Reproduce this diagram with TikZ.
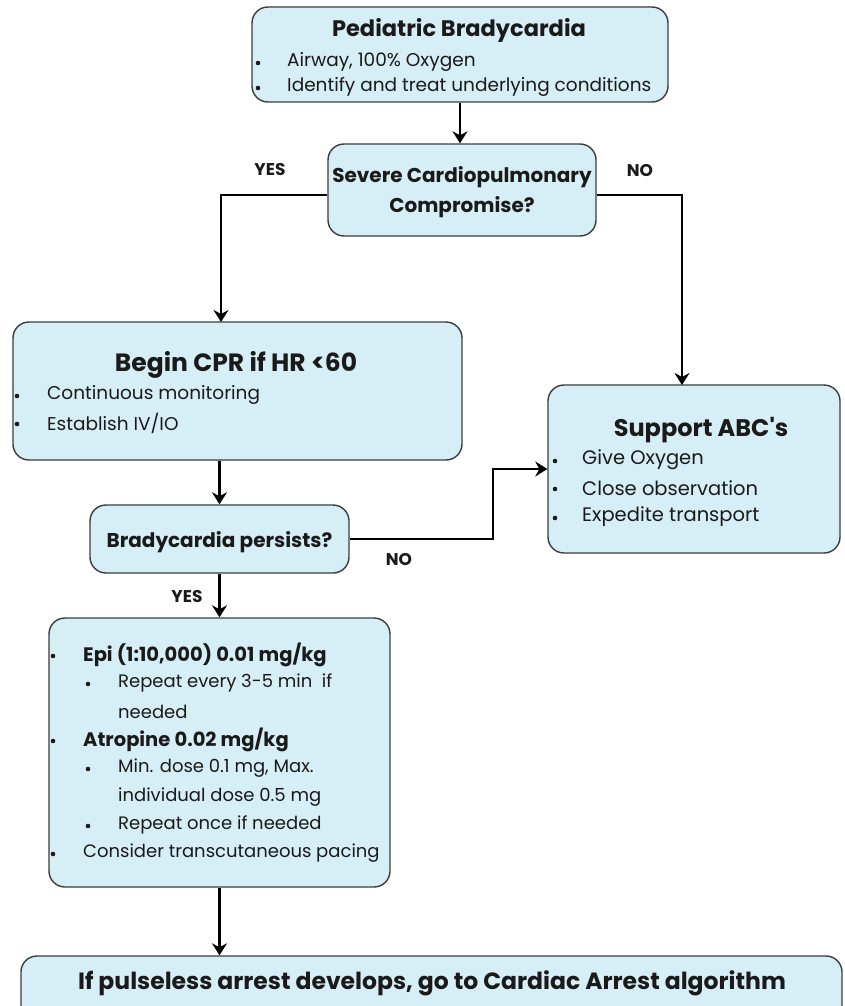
\documentclass[tikz,border=0pt]{standalone}
\usepackage{fontspec}
\setmainfont{Poppins}
\usetikzlibrary{arrows.meta,positioning}
\tikzset{>={Stealth[length=12pt,width=15pt,inset=4pt]}}
\definecolor{boxfill}{HTML}{D6EEF5}
\definecolor{boxedge}{HTML}{3C3C3C}
\definecolor{ink}{HTML}{1A1A1A}

\tikzset{
  box/.style={draw=boxedge, line width=1.4pt, fill=boxfill, rounded corners=16pt, inner sep=0pt},
  flow/.style={->, line width=2.6pt, draw=black},
  head/.style={text=ink, inner sep=0pt, font=\bfseries\fontsize{22.5}{26}\selectfont},
  bighead/.style={text=ink, inner sep=0pt, font=\bfseries\fontsize{25}{30}\selectfont},
  item/.style={text=ink, anchor=west, inner sep=0pt, font=\fontsize{18.5}{22}\selectfont},
  dot/.style={circle, fill=ink, inner sep=0pt, minimum size=4.6pt},
  answer/.style={text=ink, inner sep=0pt, font=\bfseries\fontsize{17}{20}\selectfont},
  ask/.style={text=ink, inner sep=0pt, align=center, font=\bfseries\fontsize{20}{30}\selectfont}
}

\begin{document}
\begin{tikzpicture}[x=1pt,y=-1pt]
  \useasboundingbox (0,0) rectangle (844,1006);

  % boxes
  \node[box, minimum width=416pt, minimum height=95pt] (top) at (460,54.5) {};
  \node[box, minimum width=268pt, minimum height=92pt] (decision) at (462,190) {};
  \node[box, minimum width=449pt, minimum height=138pt] (cpr) at (237.5,391) {};
  \node[box, minimum width=292pt, minimum height=168pt] (support) at (694,469) {};
  \node[box, minimum width=259pt, minimum height=68pt] (persists) at (219.5,539) {};
  \node[box, minimum width=341pt, minimum height=269pt] (drugs) at (219.5,752.5) {};
  \node[box, minimum width=821pt, minimum height=90pt] (arrest) at (431.5,1001) {};

  % first box
  \node[head] (toptitle) at (459,30) {Pediatric Bradycardia};
  \foreach \y/\t in {62/{Airway, 100\% Oxygen},87/{Identify and treat underlying conditions}}
  {
    \node[dot] at (258,\y+1) {};
    \node[item] at (287,\y) {\t};
  }

  \node[ask] (asktext) at (462,192) {Severe Cardiopulmonary\\Compromise?};
  \node[answer] (yes1) at (270,170) {YES};
  \node[answer] (no1) at (640,171) {NO};

  % CPR box
  \node[bighead] (cprtitle) at (236,365) {Begin CPR if HR <60};
  \foreach \y/\t in {395/{Continuous monitoring},423/{Establish IV/IO}}
  {
    \node[dot] at (17,\y+1) {};
    \node[item] at (47,\y) {\t};
  }

  % supportive care
  \node[bighead, font=\bfseries\fontsize{24}{28}\selectfont] (supporttitle) at (701,430)
    {Support ABC{\addfontfeatures{Ligatures=TeXOff}'}s};
  \foreach \y/\t in {460/{Give Oxygen},488/{Close observation},517/{Expedite transport}}
  {
    \node[dot] at (555,\y+1) {};
    \node[item, font=\fontsize{19.5}{22}\selectfont] at (582,\y) {\t};
  }

  \node[ask] (persiststext) at (219.5,542) {Bradycardia persists?};
  \node[answer] (no2) at (399,560) {NO};
  \node[answer] (yes2) at (187,597) {YES};

  % drugs
  \foreach \y/\t in {655/{\bfseries\fontsize{19.5}{22}\selectfont Epi (1:10,000) 0.01 mg/kg},740/{\bfseries\fontsize{19.5}{22}\selectfont Atropine 0.02 mg/kg},853/{Consider transcutaneous pacing}}
  {
    \node[dot] at (53,\y+1) {};
    \node[item, font=\fontsize{18}{22}\selectfont] at (83,\y) {\t};
  }
  \foreach \y/\t in {683/{Repeat every 3-5 min\ \ if},768/{Min. dose 0.1 mg, Max.},825/{Repeat once if needed}}
  {
    \node[dot] at (88,\y+1) {};
    \node[item, font=\fontsize{18}{22}\selectfont] at (118,\y) {\t};
  }
  \node[item, font=\fontsize{18}{22}\selectfont] at (118,712) {needed};
  \node[item, font=\fontsize{18}{22}\selectfont] at (118,797) {individual dose 0.5 mg};

  \node[head, font=\bfseries\fontsize{23.5}{26}\selectfont] (arresttext) at (432,983)
    {If pulseless arrest develops, go to Cardiac Arrest algorithm};

  % connectors
  \coordinate (yesdrop) at (221,322);
  \coordinate (nodrop) at (682,385);
  \coordinate (kink) at (493,469);
  \draw[flow] (top.south) -- (top.south |- decision.north);
  \draw[flow] ([yshift=-5pt]decision.west) -| (yesdrop);
  \draw[flow] ([yshift=-5pt]decision.east) -| (nodrop);
  \draw[flow] (cpr.south -| persists.north) -- (persists.north);
  \draw[flow] (persists.east) -| (kink) -- (support.west);
  \draw[flow] (persists.south) -- (drugs.north);
  \draw[flow] (drugs.south) -- (drugs.south |- arrest.north);
\end{tikzpicture}
\end{document}
